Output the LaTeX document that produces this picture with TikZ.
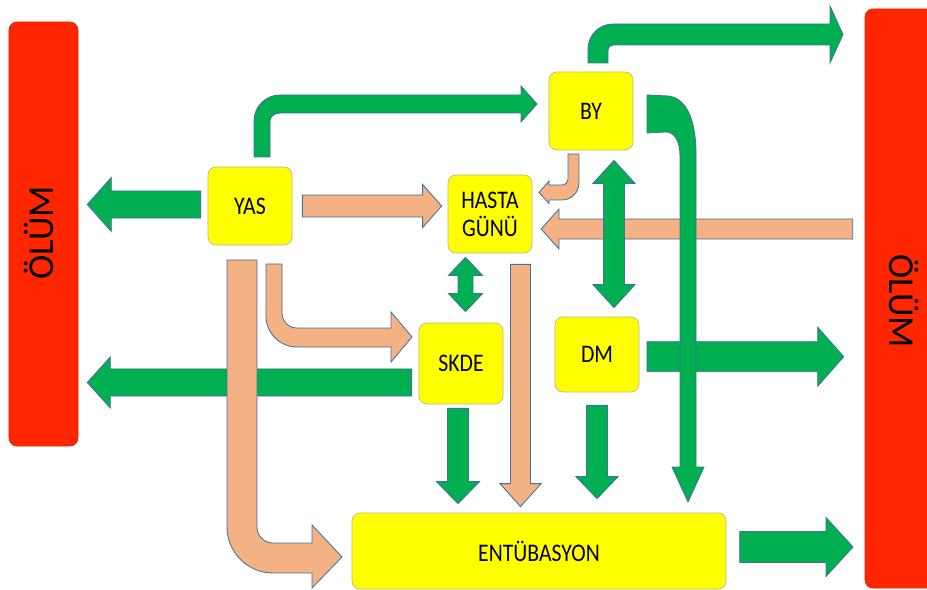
\documentclass[tikz,border=0pt]{standalone}
\usepackage{fontspec}
\setmainfont{Carlito}
\newfontfamily\boxfont{Carlito}[FakeStretch=0.86]
\usetikzlibrary{calc,positioning}
\definecolor{grn}{HTML}{00B050}
\definecolor{salm}{HTML}{F4B183}
\definecolor{ylw}{HTML}{FFFF00}
\definecolor{rd}{HTML}{FF2600}
\definecolor{edge}{HTML}{41719C}
\definecolor{bline}{HTML}{B9B98C}
\newcommand{\pxpt}{0.7113}
% straight block arrow: style, from, to, shaft, head width, head length (px)
\newcommand{\blockarrow}[6]{%
  \draw[#1] let \p1=(#2), \p2=(#3), \n1={atan2(\y2-\y1,\x2-\x1)}, \n2={veclen(\x2-\x1,\y2-\y1)} in
    [shift={(\p1)}, rotate=\n1]
    (0pt,{#4*\pxpt/2*1pt}) -- ({(\n2-#6*\pxpt)*1pt},{#4*\pxpt/2*1pt}) -- ({(\n2-#6*\pxpt)*1pt},{#5*\pxpt/2*1pt})
    -- ({\n2*1pt},0pt) -- ({(\n2-#6*\pxpt)*1pt},{-#5*\pxpt/2*1pt}) -- ({(\n2-#6*\pxpt)*1pt},{-#4*\pxpt/2*1pt})
    -- (0pt,{-#4*\pxpt/2*1pt}) -- cycle;}
% double headed block arrow
\newcommand{\dblarrow}[6]{%
  \draw[#1] let \p1=(#2), \p2=(#3), \n1={atan2(\y2-\y1,\x2-\x1)}, \n2={veclen(\x2-\x1,\y2-\y1)} in
    [shift={(\p1)}, rotate=\n1]
    (0pt,0pt) -- ({#6*\pxpt*1pt},{#5*\pxpt/2*1pt}) -- ({#6*\pxpt*1pt},{#4*\pxpt/2*1pt})
    -- ({(\n2-#6*\pxpt)*1pt},{#4*\pxpt/2*1pt}) -- ({(\n2-#6*\pxpt)*1pt},{#5*\pxpt/2*1pt}) -- ({\n2*1pt},0pt)
    -- ({(\n2-#6*\pxpt)*1pt},{-#5*\pxpt/2*1pt}) -- ({(\n2-#6*\pxpt)*1pt},{-#4*\pxpt/2*1pt})
    -- ({#6*\pxpt*1pt},{-#4*\pxpt/2*1pt}) -- ({#6*\pxpt*1pt},{-#5*\pxpt/2*1pt}) -- cycle;}
\begin{document}
\begin{tikzpicture}[x=0.025cm, y=-0.025cm,
  box/.style={draw=bline, line width=0.5pt, fill=ylw, rounded corners=0.2cm, minimum width=2.1cm, minimum height=1.95cm,
    inner sep=0pt, align=center, font=\boxfont\fontsize{18}{20}\selectfont},
  bar/.style={draw=rd!85!black, line width=0.4pt, fill=rd, rounded corners=0.2cm, inner sep=0pt},
  bartxt/.style={font=\fontsize{26}{28}\selectfont, inner sep=0pt},
  garr/.style={fill=grn, draw=edge, line width=0.6pt},
  sarr/.style={fill=salm, draw=edge, line width=0.6pt},
]
\clip (0,0) rectangle (927,590);
% death bars on both sides
\node[bar, minimum width=1.725cm, minimum height=10.6cm] (lolum) at (43.5,234) {};
\node[bartxt, rotate=90] (lolumtxt) at ($(lolum)+(-5,-1)$) {ÖLÜM};
\node[bar, minimum width=1.75cm, minimum height=14.475cm] (rolum) at (900,298.5) {};
\node[bartxt, rotate=-90] (rolumtxt) at ($(rolum)+(4,2.5)$) {ÖLÜM};
% factors
\node[box] (yas) at (250,206) {YAS};
\node[box] (hasta) at (490,214) {HASTA\\GÜNÜ};
\node[box, minimum height=2.025cm] (skde) at (461,363.5) {SKDE};
\node[box] (by) at (591,111) {BY};
\node[box, minimum height=1.875cm] (dm) at (597,354.5) {DM};
\node[box, minimum width=9.35cm, minimum height=1.9cm] (ent) at (539,551) {ENTÜBASYON};
% salmon links
\blockarrow{sarr}{$(rolum.west|-hasta.east)+(-12,15)$}{$(hasta.east)+(8.7,15)$}{20}{40}{18}
\blockarrow{sarr}{$(yas.east)+(10,0)$}{$(hasta.west|-yas.east)+(-6,0)$}{22}{43}{19}
\blockarrow{sarr}{$(hasta.south)+(30.5,11)$}{$(hasta.south|-ent.north)+(30.5,-6)$}{20}{41}{23}
\draw[sarr] (266,264) -- (266,316) .. controls (266,333.1) and (279.9,347) .. (297,347) -- (391,347) -- (391,362)
  -- (412,337) -- (391,312) -- (391,328) -- (297,328) .. controls (288.7,328) and (282,321.3) .. (282,313) -- (282,264) -- cycle;
\draw[sarr] (579,154) -- (579,183) .. controls (579,192.4) and (571.4,200) .. (562,200) -- (549,200) -- (549,203.5)
  -- (539,192.5) -- (549,181) -- (549,185) -- (562,185) .. controls (565.3,185) and (568,182.3) .. (568,179) -- (568,154) -- cycle;
% green links
\blockarrow{garr}{$(yas.west)+(-7,-1.5)$}{$(lolum.east|-yas.west)+(9,-1.5)$}{27}{54}{24}
\blockarrow{garr}{$(skde.west)+(-7,19)$}{$(lolum.east|-skde.west)+(9,19)$}{27}{51}{23}
\dblarrow{garr}{$(hasta.south-|skde.north)+(4.5,4)$}{$(skde.north)+(4.5,-11)$}{15}{34}{18}
\blockarrow{garr}{$(skde.south)+(-3,4)$}{$(skde.south|-ent.north)+(-3,-9)$}{21}{43}{22}
\blockarrow{garr}{$(dm.south)+(0,13)$}{$(dm.south|-ent.north)+(0,-14)$}{21}{42}{22}
\dblarrow{garr}{$(by.south)+(23,10)$}{$(by.south|-dm.north)+(23,-9)$}{21}{42}{23}
\blockarrow{garr}{$(dm.east)+(7.7,2.2)$}{$(rolum.west|-dm.east)+(-21,2.2)$}{30}{59}{26}
\blockarrow{garr}{$(ent.east)+(13.3,-4)$}{$(rolum.west|-ent.east)+(-11.7,-4)$}{31}{59}{27}
\draw[garr] (254,157) -- (254,121) .. controls (254,106.6) and (265.6,95) .. (280,95) -- (521,95) -- (521,86)
  -- (537,104) -- (521,122) -- (521,113) -- (280,113) .. controls (274.5,113) and (270,116.6) .. (270,121) -- (270,157) -- cycle;
\draw[garr] (588,63) -- (588,49) .. controls (588,35.2) and (599.2,24) .. (613,24) -- (830,24) -- (830,6)
  -- (843,34.5) -- (830,63) -- (830,45) -- (613,45) .. controls (610.2,45) and (608,47.2) .. (608,50) -- (608,63) -- cycle;
\draw[garr] (647,95) -- (668,96) .. controls (686,98) and (695,118) .. (696,150) -- (696,467) -- (704,467)
  -- (688,502) -- (672,467) -- (680,467) -- (680,156) .. controls (680,142) and (675,132) .. (666,132) -- (647,133) -- cycle;
% age straight down to intubation, over the skde link
\draw[sarr] (227,260) -- (227,527) .. controls (227,552.4) and (247.6,573) .. (273,573) -- (312,573) -- (312,588)
  -- (342,557) -- (312,525) -- (312,543) -- (273,543) .. controls (264.2,543) and (257,535.8) .. (257,527) -- (257,260) -- cycle;
\end{tikzpicture}
\end{document}
